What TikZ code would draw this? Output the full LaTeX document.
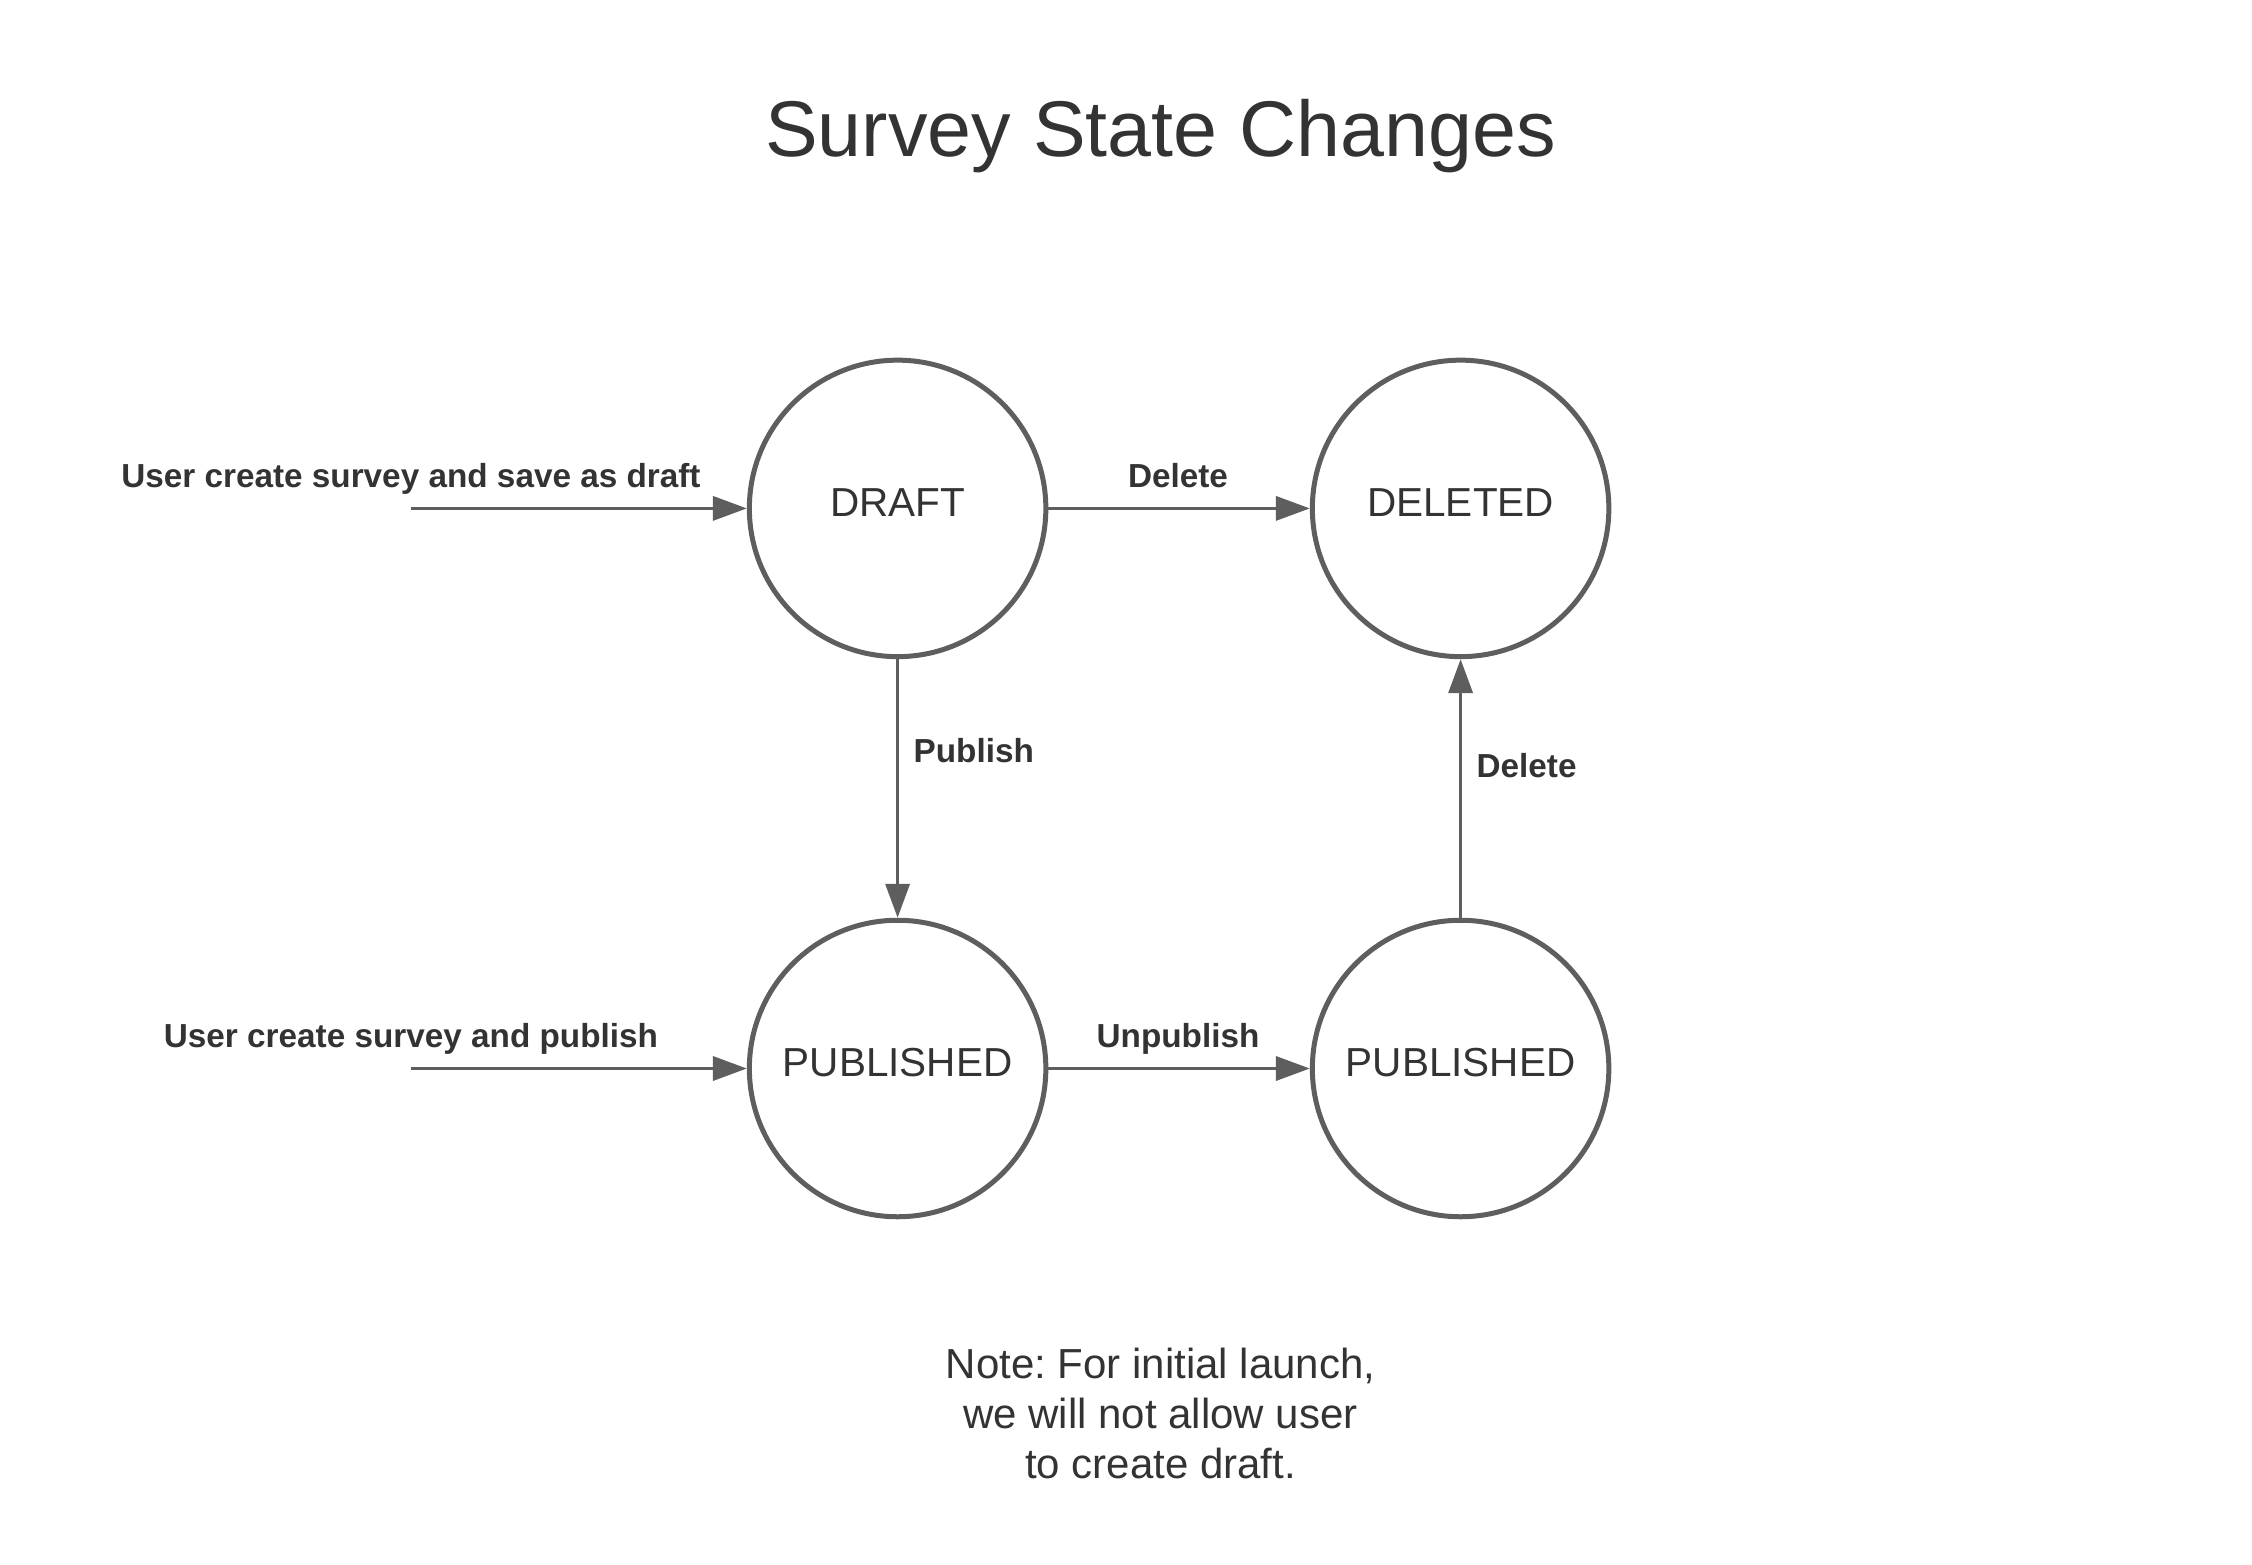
\documentclass[tikz,border=0pt]{standalone}
\usepackage{fontspec}
\setmainfont{Liberation Sans}
\usepackage{xcolor}
\usepackage{tikz}
\usetikzlibrary{positioning,arrows.meta}
\definecolor{edgegray}{HTML}{5E5E5E}
\definecolor{inkgray}{HTML}{333333}
\frenchspacing

\begin{document}
\begin{tikzpicture}[x=1pt,y=-1pt,>={Triangle[length=34pt,width=24pt]},
  state/.style={circle,draw=edgegray,line width=5pt,minimum size=296.5pt,inner sep=0pt,
    text=inkgray,text depth=12pt,font=\fontsize{40.5}{48}\selectfont},
  trans/.style={->,draw=edgegray,line width=3.6pt},
  lbl/.style={text=inkgray,inner sep=0pt,font=\fontsize{33.3}{40}\selectfont\bfseries}]
  % page frame, in pixels of the 2252 x 1564 sheet
  \useasboundingbox (0,0) rectangle (2252,1564);
  \node[anchor=base,text=inkgray,inner sep=0pt,font=\fontsize{79}{95}\selectfont] (title) at (1160.5,156) {Survey State Changes};

  % the four states
  \def\colA{897.6}
  \def\colB{1460.6}
  \node[state] (draft)   at (\colA,508.4)  {DRAFT};
  \node[state] (deleted) at (\colB,508.4)  {DELETED};
  \node[state] (pubA)    at (\colA,1068.5) {PUBLISHED};
  \node[state] (pubB)    at (\colB,1068.5) {PUBLISHED};

  % entry arrows
  \coordinate (startDraft) at (410.8,508.4);
  \coordinate (startPub)   at (410.8,1068.5);
  \draw[trans] (startDraft) -- (draft);
  \draw[trans] (startPub) -- (pubA);
  \node[lbl,anchor=base] (lblDraft) at (411,487)    {User create survey and save as draft};
  \node[lbl,anchor=base] (lblPub)   at (411,1047.5) {User create survey and publish};

  % transitions
  \draw[trans] (draft) -- (deleted);
  \draw[trans] (draft) -- (pubA);
  \draw[trans] (pubA) -- (pubB);
  \draw[trans] (pubB) -- (deleted);
  \node[lbl,anchor=base] (lblDelA)    at (1178,487)          {Delete};
  \node[lbl,anchor=base] (lblUnpub)   at (1178,1047.5)       {Unpublish};
  \node[lbl,anchor=base west] (lblPublish) at (913.4,762.6) {Publish};
  \node[lbl,anchor=base west] (lblDelB)    at (1476.4,777)  {Delete};

  \node[align=center,text=inkgray,inner sep=0pt,font=\fontsize{42}{50}\selectfont] (note) at (1160.5,1413)
    {Note: For initial launch,\\ we will not allow user\\ to create draft.};
\end{tikzpicture}
\end{document}
